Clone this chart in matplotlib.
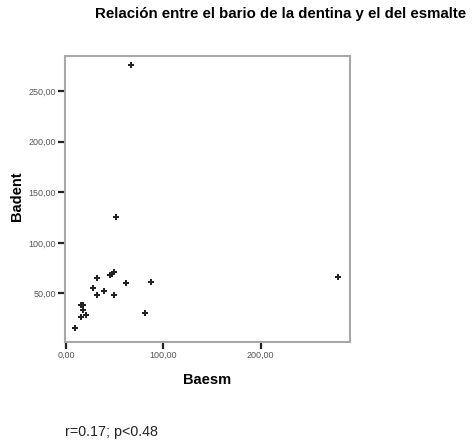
import matplotlib
matplotlib.use("Agg")
import matplotlib.pyplot as plt

baesm = [66.7, 51.3, 31.8, 44.9, 46.9, 49.6, 61.6, 87.6, 27.7, 39.3,
         31.8, 49.3, 81.1, 15.1, 17.8, 17.8, 15.4, 20.2, 8.9, 279.6]
badent = [276.0, 125.5, 65.5, 68.2, 69.2, 70.8, 60.0, 61.0, 55.0, 52.4,
          48.7, 48.7, 30.3, 38.8, 38.2, 33.6, 27.0, 28.4, 15.5, 65.9]

x_ticks = [0, 100, 200]
x_ticklabels = ["0,00", "100,00", "200,00"]
y_ticks = [50, 100, 150, 200, 250]
y_ticklabels = ["50,00", "100,00", "150,00", "200,00", "250,00"]

title = "Relación entre el bario de la dentina y el del esmalte"
xlabel = "Baesm"
ylabel = "Badent"
note = "r=0.17; p<0.48"

plt.rcParams['font.family'] = ['Liberation Sans', 'DejaVu Sans']

fig = plt.figure(figsize=(4.76, 4.41), dpi=100)
ax = fig.add_axes([0.136, 0.2245, 0.599, 0.6485])
ax.plot(baesm, badent, linestyle='none', marker='P', markersize=5,
        color='#222222', markeredgewidth=0)
ax.set_xlim(-1.3, 291.6)
ax.set_ylim(2, 284.6)
ax.set_xticks(x_ticks)
ax.set_xticklabels(x_ticklabels)
ax.set_yticks(y_ticks)
ax.set_yticklabels(y_ticklabels)
ax.tick_params(direction='out', length=5, width=1.6, color='#222222',
               labelsize=6.5, labelcolor='#555555', pad=1.5)
for s in ax.spines.values():
    s.set_color('#a8a8a8')
    s.set_linewidth(1.5)

ax.set_xlabel(xlabel, fontsize=10.5, fontweight='bold', va='center')
ax.xaxis.set_label_coords(0.5, -0.133)
ax.set_ylabel(ylabel, fontsize=10.5, fontweight='bold', va='center')
ax.yaxis.set_label_coords(-0.167, 0.51)
fig.text(0.59, 0.968, title, fontsize=10.8, fontweight='bold', ha='center', va='center')
fig.text(0.137, 0.02, note, fontsize=10.3, ha='left', va='center', color='#222222')

fig.savefig("out.png", dpi=100, facecolor='white')
